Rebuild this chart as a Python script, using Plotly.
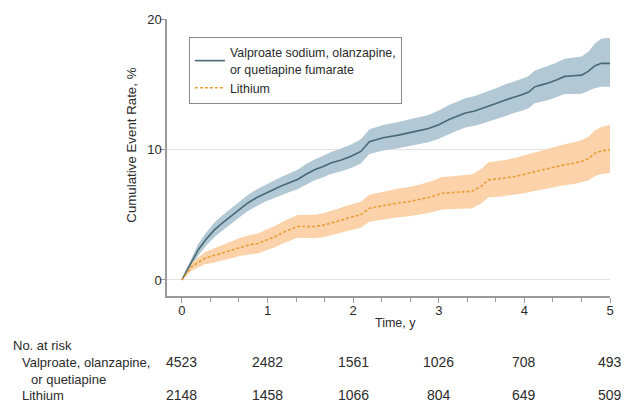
import plotly.graph_objects as go

# ---- data ----
valp_t = [0, 0.05, 0.1, 0.19, 0.28, 0.38, 0.46, 0.54, 0.65, 0.77, 0.87, 0.97, 1.06, 1.16, 1.25,
          1.35, 1.45, 1.55, 1.65, 1.74, 1.86, 1.97, 2.09, 2.19, 2.35, 2.53, 2.7, 2.88, 3.0, 3.12,
          3.2, 3.31, 3.42, 3.54, 3.66, 3.78, 3.88, 3.97, 4.05, 4.12, 4.2, 4.28, 4.38, 4.47, 4.57,
          4.67, 4.75, 4.82, 4.9, 5.0]
valp_v = [0, 0.6, 1.2, 2.3, 3.1, 3.84, 4.3, 4.7, 5.3, 5.9, 6.3, 6.65, 6.9, 7.2, 7.45,
          7.7, 8.1, 8.44, 8.7, 8.96, 9.2, 9.46, 9.85, 10.6, 10.9, 11.1, 11.35, 11.6, 11.9, 12.3,
          12.5, 12.8, 12.95, 13.2, 13.5, 13.8, 14.0, 14.2, 14.4, 14.8, 14.95, 15.1, 15.35, 15.6, 15.65,
          15.7, 16.0, 16.4, 16.6, 16.6]
valp_lo = [0, 0.35, 0.9, 1.85, 2.6, 3.3, 3.72, 4.1, 4.69, 5.28, 5.66, 6.0, 6.23, 6.5, 6.73,
           6.95, 7.32, 7.64, 7.88, 8.12, 8.33, 8.56, 8.92, 9.65, 9.93, 10.1, 10.32, 10.55, 10.82, 11.2,
           11.39, 11.68, 11.81, 12.05, 12.33, 12.6, 12.79, 12.97, 13.16, 13.55, 13.68, 13.8, 14.03, 14.25, 14.26,
           14.28, 14.5, 14.7, 14.8, 14.8]
valp_hi = [0, 0.85, 1.5, 2.75, 3.6, 4.4, 4.88, 5.3, 5.91, 6.52, 6.94, 7.3, 7.57, 7.9, 8.17,
           8.45, 8.88, 9.24, 9.52, 9.8, 10.07, 10.36, 10.78, 11.55, 11.87, 12.1, 12.38, 12.65, 12.98, 13.4,
           13.61, 13.92, 14.09, 14.35, 14.67, 15.0, 15.21, 15.43, 15.64, 16.05, 16.22, 16.4, 16.67, 16.95, 17.04,
           17.12, 17.5, 18.1, 18.5, 18.55]

lith_t = [0, 0.05, 0.11, 0.19, 0.27, 0.36, 0.46, 0.57, 0.69, 0.79, 0.89, 0.98, 1.08, 1.2, 1.35,
          1.45, 1.55, 1.65, 1.74, 1.85, 1.93, 2.09, 2.19, 2.35, 2.53, 2.65, 2.77, 2.9, 3.04, 3.2,
          3.39, 3.5, 3.58, 3.75, 3.89, 4.0, 4.12, 4.28, 4.45, 4.58, 4.67, 4.75, 4.82, 4.9, 5.0]
lith_v = [0, 0.5, 1.0, 1.35, 1.66, 1.85, 2.05, 2.3, 2.56, 2.7, 2.8, 3.05, 3.3, 3.7, 4.1,
          4.1, 4.1, 4.2, 4.35, 4.55, 4.73, 5.0, 5.5, 5.7, 5.9, 6.0, 6.14, 6.35, 6.65, 6.7,
          6.8, 7.2, 7.67, 7.8, 7.93, 8.1, 8.3, 8.57, 8.8, 8.95, 9.1, 9.3, 9.7, 9.9, 9.98]
lith_lo = [0, 0.3, 0.68, 0.95, 1.2, 1.32, 1.45, 1.65, 1.86, 1.97, 2.04, 2.25, 2.48, 2.86, 3.23,
           3.21, 3.2, 3.28, 3.41, 3.59, 3.75, 4.0, 4.47, 4.64, 4.8, 4.88, 4.99, 5.16, 5.4, 5.43,
           5.5, 5.87, 6.32, 6.42, 6.52, 6.65, 6.82, 7.05, 7.24, 7.35, 7.47, 7.62, 7.95, 8.12, 8.2]
lith_hi = [0, 0.7, 1.32, 1.75, 2.12, 2.38, 2.65, 2.95, 3.26, 3.43, 3.56, 3.85, 4.12, 4.54, 4.97,
           4.99, 5.0, 5.12, 5.29, 5.51, 5.71, 6.0, 6.53, 6.76, 7.0, 7.12, 7.29, 7.54, 7.9, 7.97,
           8.1, 8.53, 9.02, 9.18, 9.34, 9.55, 9.78, 10.09, 10.36, 10.55, 10.73, 10.98, 11.45, 11.72, 11.9]

risk_times = [0, 1, 2, 3, 4, 5]
risk_valp = [4523, 2482, 1561, 1026, 708, 493]
risk_lith = [2148, 1458, 1066, 804, 649, 509]

x_ticks = [0, 1, 2, 3, 4, 5]
y_ticks = [0, 10, 20]

name_valp = "Valproate sodium, olanzapine,<br>or quetiapine fumarate"
name_lith = "Lithium"

# ---- styles ----
C_VALP = "#486975"
C_VALP_BAND = "#b2c9d5"
C_LITH = "#e99e33"
C_LITH_BAND = "#fcd2aa"
TXT = "#2b2b2b"
AX = "#9a9a9a"
FONT = "Liberation Sans, Arial, sans-serif"

fig = go.Figure()

# bands
fig.add_trace(go.Scatter(x=valp_t, y=valp_lo, mode="lines", line=dict(width=0),
                         showlegend=False, hoverinfo="skip"))
fig.add_trace(go.Scatter(x=valp_t, y=valp_hi, mode="lines", line=dict(width=0),
                         fill="tonexty", fillcolor=C_VALP_BAND, showlegend=False, hoverinfo="skip"))
fig.add_trace(go.Scatter(x=lith_t, y=lith_lo, mode="lines", line=dict(width=0),
                         showlegend=False, hoverinfo="skip"))
fig.add_trace(go.Scatter(x=lith_t, y=lith_hi, mode="lines", line=dict(width=0),
                         fill="tonexty", fillcolor=C_LITH_BAND, showlegend=False, hoverinfo="skip"))
# lines
fig.add_trace(go.Scatter(x=valp_t, y=valp_v, mode="lines", name=name_valp,
                         line=dict(color=C_VALP, width=1.6)))
fig.add_trace(go.Scatter(x=lith_t, y=lith_v, mode="lines", name=name_lith,
                         line=dict(color=C_LITH, width=1.6, dash="3px,2px")))

fig.update_layout(
    width=626, height=403,
    margin=dict(l=167, r=14, t=19, b=107),
    paper_bgcolor="white", plot_bgcolor="white",
    font=dict(family=FONT, size=13, color=TXT),
    legend=dict(x=(189 - 167) / 445, y=1 - (37 - 19) / 277, xanchor="left", yanchor="top",
                bordercolor="#8a8a8a", borderwidth=1, bgcolor="white",
                font=dict(family=FONT, size=12.4, color=TXT),
                itemwidth=30, traceorder="normal"),
)

fig.update_xaxes(
    range=[-0.174, 5], tickvals=x_ticks, ticktext=[str(v) for v in x_ticks],
    showgrid=False, zeroline=False,
    showline=True, linecolor=AX, linewidth=1.5,
    ticks="outside", ticklen=5, tickcolor=AX, tickwidth=1.2,
    tickfont=dict(family=FONT, size=13, color=TXT), ticklabelstandoff=-3,
    minor=dict(dtick=1/3, tick0=0, ticks="outside", ticklen=4, tickcolor=AX, tickwidth=1.2, showgrid=False),
)
fig.update_yaxes(
    range=[-1.23, 20], tickvals=y_ticks, ticktext=[str(v) for v in y_ticks],
    showgrid=True, gridcolor="#e6e2df", gridwidth=1, zeroline=False,
    showline=True, linecolor=AX, linewidth=1.5,
    ticks="outside", ticklen=5, tickcolor=AX, tickwidth=1.2,
    tickfont=dict(family=FONT, size=13, color=TXT), ticklabelstandoff=-4,
)

def ypix(py):
    return 1 - (py - 19) / 277.0

def xpix(px):
    return (px - 167) / 445.0

# axis titles
fig.add_annotation(text="Time, y", x=2.5, xref="x", y=ypix(323), yref="paper",
                   showarrow=False, font=dict(family=FONT, size=12.5, color=TXT),
                   xanchor="center", yanchor="middle")
fig.add_annotation(text="Cumulative Event Rate, %", x=xpix(131), xref="paper", y=10.3, yref="y",
                   showarrow=False, textangle=-90, font=dict(family=FONT, size=13.3, color=TXT),
                   xanchor="center", yanchor="middle")

# number at risk table
LBL = dict(family=FONT, size=13, color=TXT)
fig.add_annotation(text="No. at risk", x=xpix(10), xref="paper", y=ypix(345), yref="paper",
                   showarrow=False, xanchor="left", yanchor="middle", font=LBL)
fig.add_annotation(text="Valproate, olanzapine,", x=xpix(19), xref="paper", y=ypix(362), yref="paper",
                   showarrow=False, xanchor="left", yanchor="middle", font=LBL)
fig.add_annotation(text="or quetiapine", x=xpix(28), xref="paper", y=ypix(379), yref="paper",
                   showarrow=False, xanchor="left", yanchor="middle", font=LBL)
fig.add_annotation(text="Lithium", x=xpix(19), xref="paper", y=ypix(395), yref="paper",
                   showarrow=False, xanchor="left", yanchor="middle", font=LBL)
NUM = dict(family=FONT, size=14, color=TXT)
for t, a, b in zip(risk_times, risk_valp, risk_lith):
    fig.add_annotation(text=str(a), x=t, xref="x", y=ypix(362), yref="paper", showarrow=False,
                       xanchor="center", yanchor="middle", font=NUM)
    fig.add_annotation(text=str(b), x=t, xref="x", y=ypix(395), yref="paper", showarrow=False,
                       xanchor="center", yanchor="middle", font=NUM)

# remove the default page margin so the figure fills the 626x403 window exactly
fig.write_html("out.html",
               config={"displayModeBar": False},
               post_script="document.body.style.margin='0';document.body.style.overflow='hidden';")
